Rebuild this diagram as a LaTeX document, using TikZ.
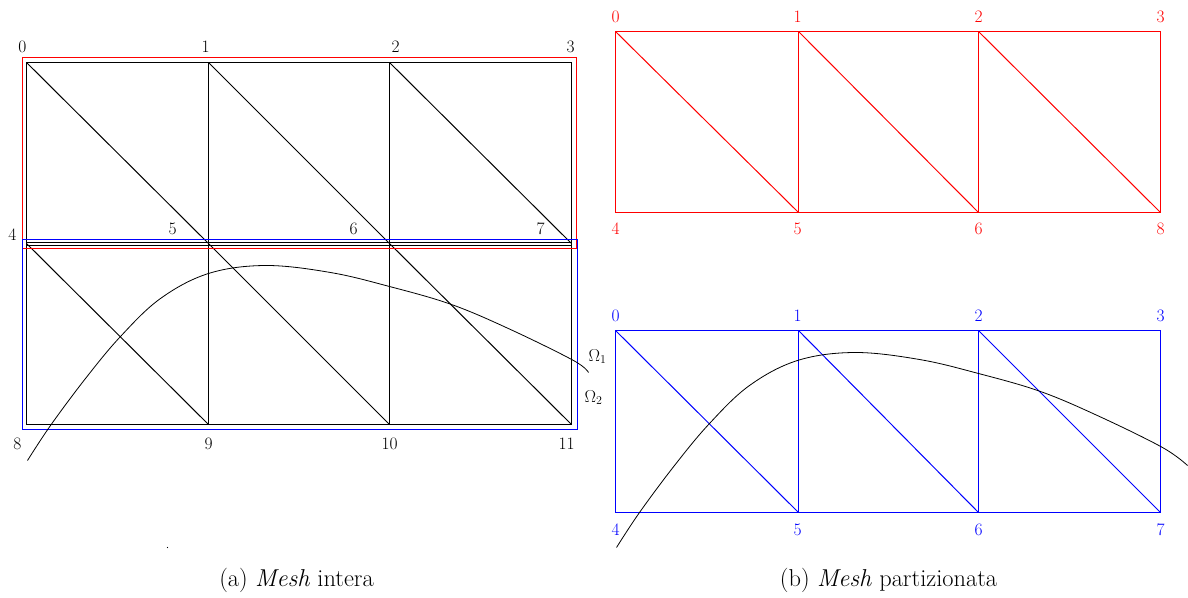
\documentclass[tikz,border=0pt]{standalone}
\begin{document}
\begin{tikzpicture}[x=1bp,y=-1bp,
  lbl/.style={font=\fontsize{17.5}{20}\selectfont, inner sep=0pt},
  captext/.style={font=\fontsize{24.5}{28}\selectfont, inner sep=0pt},
  mesh/.style={line width=1bp},
  part/.style={line width=1bp}]
\useasboundingbox (0,0) rectangle (1188,598);
\begin{scope}[shift={(0.5,0.5)}]
% ---------- left: whole mesh ----------
\foreach \n/\x/\y in {0/26/62,1/208/62,2/389/62,3/571/62,
                      4/26/243,5/208/243,6/389/243,7/571/243,
                      8/26/424,9/208/424,10/389/424,11/571/424}
  \coordinate (L\n) at (\x,\y);
\draw[mesh] (L0) -- (L3) -- (L11) -- (L8) -- cycle;
\draw[mesh] (26,242) -- (571,242);
\draw[mesh] (26,245) -- (571,245);
\draw[mesh] (L1) -- (L9) (L2) -- (L10);
\draw[mesh] (L0) -- (L5) (L1) -- (L6) (L2) -- (L7);
\draw[mesh] (L4) -- (L9) (L5) -- (L10) (L6) -- (L11);
\draw[red,part] (22,57) rectangle (576,248);
\draw[blue,part] (22,239) rectangle (577,429);
\node[lbl] (l0) at (22,46) {0};
\node[lbl] (l1) at (205,46) {1};
\node[lbl] (l2) at (395,46) {2};
\node[lbl] (l3) at (570,46) {3};
\node[lbl] (l4) at (12,234) {4};
\node[lbl] (l5) at (172,228) {5};
\node[lbl] (l6) at (353,228) {6};
\node[lbl] (l7) at (540,228) {7};
\node[lbl] (l8) at (17,443) {8};
\node[lbl] (l9) at (208,443) {9};
\node[lbl] (l10) at (389,443) {10};
\node[lbl] (l11) at (566,443) {11};
\draw[line width=0.8bp] plot[smooth,tension=0.6] coordinates {(27,460) (50,425) (85,378) (120,336) (160,298) (208,273) (265,265) (330,272) (389,286) (451,304) (510,329) (573,360) (588,372)};
\node[lbl] (om1) at (597,356) {$\Omega_1$};
\node[lbl] (om2) at (593,397) {$\Omega_2$};
\fill (167,547) circle (0.6);
\node[captext] (capa) at (296,580) {(a) \textit{Mesh} intera};
% ---------- right top: red ----------
\foreach \n/\x/\y in {0/615/31,1/798/31,2/978/31,3/1160/31,
                      4/615/212,5/798/212,6/978/212,8/1160/212}
  \coordinate (R\n) at (\x,\y);
\draw[red,part] (R0) -- (R3) -- (R8) -- (R4) -- cycle;
\draw[red,part] (R1) -- (R5) (R2) -- (R6);
\draw[red,part] (R0) -- (R5) (R1) -- (R6) (R2) -- (R8);
\foreach \n/\x in {0/615,1/797,2/978,3/1160}
  \node[lbl,red] (rt\n) at (\x,16) {\n};
\foreach \n/\x in {4/615,5/797,6/978,8/1160}
  \node[lbl,red] (rb\n) at (\x,228) {\n};
% ---------- right bottom: blue ----------
\foreach \n/\x/\y in {0/615/330,1/798/330,2/978/330,3/1160/330,
                      4/615/512,5/798/512,6/978/512,7/1160/512}
  \coordinate (B\n) at (\x,\y);
\draw[blue,part] (B0) -- (B3) -- (B7) -- (B4) -- cycle;
\draw[blue,part] (B1) -- (B5) (B2) -- (B6);
\draw[blue,part] (B0) -- (B5) (B1) -- (B6) (B2) -- (B7);
\foreach \n/\x in {0/615,1/797,2/978,3/1160}
  \node[lbl,blue] (bt\n) at (\x,315) {\n};
\foreach \n/\x in {4/615,5/797,6/978,7/1160}
  \node[lbl,blue] (bb\n) at (\x,529) {\n};
\draw[line width=0.8bp] plot[smooth,tension=0.6] coordinates {(616,547) (639,512) (674,465) (709,423) (749,385) (797,360) (854,352) (919,359) (978,373) (1040,391) (1099,416) (1162,447) (1187,465)};
\node[captext] (capb) at (888,580) {(b) \textit{Mesh} partizionata};
\end{scope}
\end{tikzpicture}
\end{document}
